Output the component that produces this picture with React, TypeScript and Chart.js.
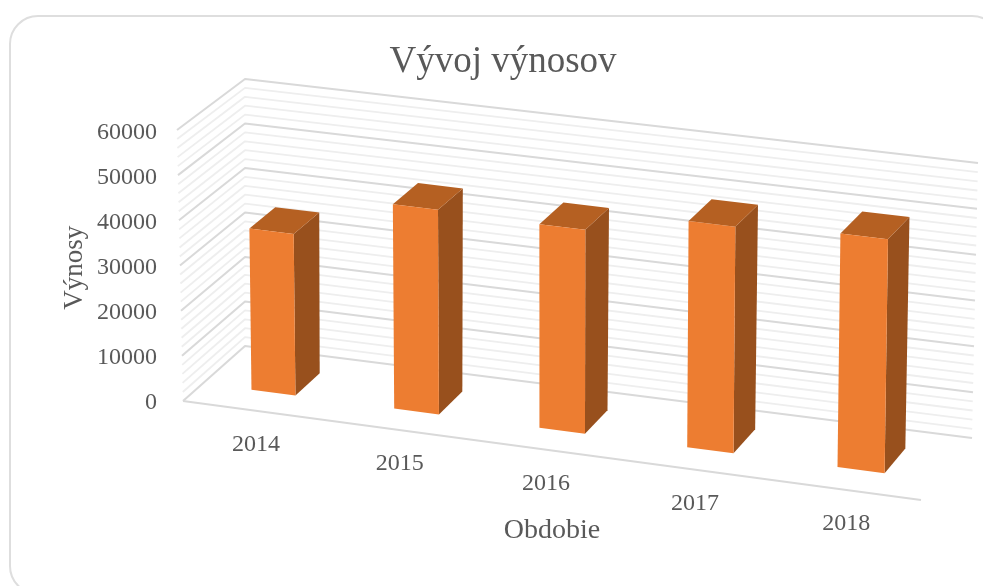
import React, { useEffect, useRef } from "react";
import { Chart, registerables } from "chart.js";

Chart.register(...registerables);

const categories = ["2014", "2015", "2016", "2017", "2018"];
const revenues = [35800, 45000, 44500, 49100, 50300];
const yMax = 60000;
const yStep = 10000;
const minorStep = 2000;

const chartTitle = "Vývoj výnosov";
const yTitle = "Výnosy";
const xTitle = "Obdobie";

const TEXT = "#595959";
const FONT = "'Liberation Serif', serif";

// Screen positions of the eight corners of the 3D plot box (perspective view)
const FL0 = [183, 401], FR0 = [921, 500], BL0 = [245, 346], BR0 = [972, 438];
const FL1 = [177, 130], FR1 = [925, 218], BL1 = [245, 79], BR1 = [978, 163];
const PERSPECTIVE = 0.043;
const DEPTH_FRONT = 0.32;
const DEPTH_BACK = 0.72;

const mix = (a: number[], b: number[], t: number) => [a[0] + (b[0] - a[0]) * t, a[1] + (b[1] - a[1]) * t];

function project(uRaw: number, v: number, w: number) {
  const u = uRaw + PERSPECTIVE * uRaw * (uRaw - 1);
  const bottom = mix(mix(FL0, FR0, u), mix(BL0, BR0, u), w);
  const top = mix(mix(FL1, FR1, u), mix(BL1, BR1, u), w);
  return mix(bottom, top, v);
}

function poly(ctx: CanvasRenderingContext2D, pts: number[][], fill: string) {
  ctx.beginPath();
  pts.forEach((p, i) => (i ? ctx.lineTo(p[0], p[1]) : ctx.moveTo(p[0], p[1])));
  ctx.closePath();
  ctx.fillStyle = fill;
  ctx.fill();
}

function line(ctx: CanvasRenderingContext2D, pts: number[][], color: string, width: number) {
  ctx.beginPath();
  pts.forEach((p, i) => (i ? ctx.lineTo(p[0], p[1]) : ctx.moveTo(p[0], p[1])));
  ctx.strokeStyle = color;
  ctx.lineWidth = width;
  ctx.stroke();
}

const threeD = {
  id: "threeD",
  beforeDraw(chart: any) {
    const { ctx } = chart;
    ctx.save();
    ctx.fillStyle = "#ffffff";
    ctx.fillRect(0, 0, chart.width, chart.height);
    ctx.beginPath();
    ctx.roundRect(10, 16, 990, 578, 28);
    ctx.strokeStyle = "#dedede";
    ctx.lineWidth = 2;
    ctx.stroke();
    ctx.restore();
  },
  beforeDatasetsDraw(chart: any) {
    const { ctx, scales, chartArea } = chart;
    const y = scales.y;
    const vOf = (val: number) => (chartArea.bottom - y.getPixelForValue(val)) / chartArea.height;
    ctx.save();
    ctx.lineJoin = "round";
    for (let val = 0; val <= yMax; val += minorStep) {
      if (val % yStep === 0) continue;
      const v = vOf(val);
      line(ctx, [project(0, v, 0), project(0, v, 1), project(1, v, 1)], "#eeeeee", 1.8);
    }
    y.ticks.forEach((t: any) => {
      const v = vOf(t.value);
      line(ctx, [project(0, v, 0), project(0, v, 1), project(1, v, 1)], "#d9d9d9", 2);
    });
    line(ctx, [project(0, 0, 0), project(1, 0, 0)], "#d9d9d9", 2);
    ctx.restore();
  },
  beforeDatasetDraw(chart: any, args: any) {
    const { ctx, chartArea } = chart;
    const meta = chart.getDatasetMeta(args.index);
    ctx.save();
    meta.data.forEach((bar: any) => {
      const u0 = (bar.x - bar.width / 2 - chartArea.left) / chartArea.width;
      const u1 = (bar.x + bar.width / 2 - chartArea.left) / chartArea.width;
      const v = (chartArea.bottom - bar.y) / chartArea.height;
      const f = DEPTH_FRONT, b = DEPTH_BACK;
      poly(ctx, [project(u1, 0, f), project(u1, 0, b), project(u1, v, b), project(u1, v, f)], "#98501d");
      poly(ctx, [project(u0, v, f), project(u1, v, f), project(u1, v, b), project(u0, v, b)], "#b56022");
      poly(ctx, [project(u0, 0, f), project(u1, 0, f), project(u1, v, f), project(u0, v, f)], "#ed7d31");
    });
    ctx.restore();
    return false;
  },
  afterDraw(chart: any) {
    const { ctx, scales, chartArea } = chart;
    const x = scales.x;
    ctx.save();
    ctx.font = `24px ${FONT}`;
    ctx.fillStyle = TEXT;
    ctx.textAlign = "center";
    ctx.textBaseline = "middle";
    categories.forEach((label, i) => {
      const u = (x.getPixelForValue(i) - chartArea.left) / chartArea.width;
      const p = project(u, 0, 0);
      ctx.fillText(label, p[0] + 2, p[1] + 34);
    });
    ctx.restore();
  },
};

export default function App() {
  const ref = useRef<HTMLCanvasElement>(null);
  useEffect(() => {
    const chart = new Chart(ref.current as HTMLCanvasElement, {
      type: "bar",
      data: {
        labels: categories,
        datasets: [
          {
            label: "Výnosy",
            data: revenues,
            backgroundColor: "#ed7d31",
            barPercentage: 0.31,
            categoryPercentage: 1,
          },
        ],
      },
      options: {
        responsive: false,
        animation: false,
        layout: { padding: { left: 23, right: 0, top: 0, bottom: 0 } },
        plugins: {
          legend: { display: false },
          tooltip: { enabled: false },
          title: {
            display: true,
            text: chartTitle,
            color: TEXT,
            font: { family: FONT, size: 37, weight: "normal" },
            padding: { top: 40, bottom: 48 },
          },
        },
        scales: {
          x: {
            grid: { display: false },
            border: { display: false },
            ticks: { display: false },
            title: {
              display: true,
              text: xTitle,
              color: TEXT,
              font: { family: FONT, size: 28 },
              padding: { top: 0, bottom: 39 },
            },
            afterFit(scale: any) {
              scale.height = 183;
            },
          },
          y: {
            min: 0,
            max: yMax,
            grid: { display: false },
            border: { display: false },
            ticks: {
              stepSize: yStep,
              color: TEXT,
              padding: 18,
              font: { family: FONT, size: 24 },
              callback: (v: any) => String(v),
            },
            title: {
              display: true,
              text: yTitle,
              color: TEXT,
              font: { family: FONT, size: 27 },
              padding: { top: 36, bottom: 0 },
            },
            afterFit(scale: any) {
              scale.width = 160;
            },
          },
          spacer: {
            position: "right",
            grid: { display: false },
            border: { display: false },
            ticks: { display: false },
            afterFit(scale: any) {
              scale.width = 62;
            },
          },
        },
      } as any,
      plugins: [threeD as any],
    });
    return () => chart.destroy();
  }, []);
  return (
    <div style={{ position: "absolute", left: 0, top: 0, width: 983, height: 586, overflow: "hidden" }}>
      <canvas ref={ref} width={983} height={586} style={{ display: "block", filter: "blur(0.55px)" }} />
    </div>
  );
}
